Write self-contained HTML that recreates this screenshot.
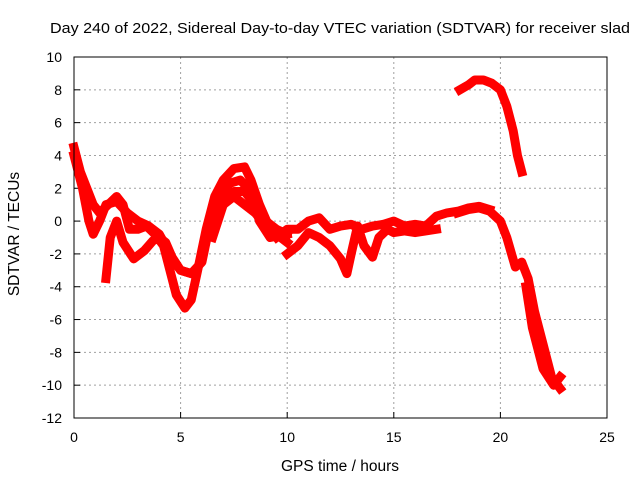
<!DOCTYPE html>
<html><head><meta charset="utf-8"><style>
body{margin:0;background:#fff}
svg{display:block;font-family:"Liberation Sans",sans-serif}
</style></head><body>
<svg id="c" width="640" height="480">
<text x="340" y="33" font-size="15" textLength="580" lengthAdjust="spacingAndGlyphs" text-anchor="middle">Day 240 of 2022, Sidereal Day-to-day VTEC variation (SDTVAR) for receiver slad</text>
<text x="340" y="471" font-size="15.5" text-anchor="middle">GPS time / hours</text>
<text transform="translate(19,234) rotate(-90)" font-size="15.5" text-anchor="middle">SDTVAR / TECUs</text>
<g id="grid"></g><g id="ticks"></g><g id="marks"></g>
<rect x="74" y="57" width="533" height="361" fill="none" stroke="#000" stroke-width="1"/>
</svg>
<script>
const xTicks=[0,5,10,15,20,25];
const yTicks=[10,8,6,4,2,0,-2,-4,-6,-8,-10,-12];
const s1=[[0,4.5],[0.3,3],[0.6,2],[0.9,1],[1.2,0.5],[1.6,1],[2,1.5],[2.3,1],[2.6,-0.5],[3,-0.5],[3.4,-0.3],[3.8,-0.8],[4.2,-1.5],[4.5,-3],[4.8,-4.5],[5.2,-5.3],[5.5,-4.8],[5.8,-3],[6.2,-0.5],[6.6,1.5],[7,2.5],[7.5,3.2],[8,3.3],[8.3,2.5],[8.7,1],[9.2,-0.5],[9.7,-1],[10,-1.3]];
const s2=[[0,4],[0.4,2],[0.7,0],[0.9,-0.8],[1.2,0],[1.5,1],[2,1.2],[2.5,0.5],[3,0],[3.5,-0.3],[4,-0.8],[4.3,-1.5],[4.7,-2.5],[5,-3],[5.5,-3.2],[6,-2.5],[6.4,0],[6.8,1.5],[7.3,2.3],[7.8,2.5],[8.3,1.8],[8.7,0],[9.2,-1],[10,-0.8]];
const s3=[[1.5,-3.5],[1.7,-1],[2,0],[2.3,-1.3],[2.8,-2.3],[3.3,-1.8],[3.7,-1.2],[4,-1],[4.3,-1.3],[4.6,-2.2],[5,-3],[5.5,-3.2]];
const s4=[[6.5,-1],[7,1],[7.5,1.8],[8,1.8],[8.5,1],[9,0],[9.5,-0.5],[10,-0.8]];
const s5=[[7,1],[7.5,1.5],[8,1],[8.5,0.5],[9,-0.3]];
const s6=[[9.5,-1],[10,-0.5],[10.5,-0.5],[11,0],[11.5,0.2],[12,-0.5],[12.5,-0.3],[13,-0.2],[13.5,-0.5],[14,-0.3],[14.5,-0.2],[15,0],[15.5,-0.3],[16,-0.2],[16.5,-0.3],[17,0.3],[17.5,0.5],[18,0.6],[18.5,0.8],[19,0.9],[19.5,0.7]];
const s7=[[10,-2],[10.5,-1.5],[11,-0.7],[11.5,-1],[12,-1.5],[12.5,-2.3],[12.8,-3.2],[13,-2],[13.3,-0.3],[13.6,-1.5],[14,-2.2],[14.3,-1],[14.7,-0.5],[15,-0.7],[15.5,-0.6],[16,-0.7],[16.5,-0.6],[17,-0.5]];
const s8=[[18,0.5],[18.5,0.7],[19,0.8],[19.5,0.6],[20,0],[20.3,-1],[20.7,-2.8],[21,-2.5],[21.3,-3.5],[21.6,-5.5],[22,-7.5],[22.4,-9.5],[22.8,-10.2]];
const s9=[[21.2,-4],[21.5,-6.5],[22,-9],[22.5,-10],[22.8,-9.5]];
const s10=[[18.1,8],[18.5,8.3],[18.8,8.6],[19.2,8.6],[19.6,8.4],[20,8],[20.3,7],[20.6,5.5],[20.8,4],[21,3]];
const series=[s1,s2,s3,s4,s5,s6,s7,s8,s9,s10];
const X=t=>74+t*533/25, Y=v=>57+(10-v)*361/22;
const NS="http://www.w3.org/2000/svg";
function mk(tag,attrs,parent){const e=document.createElementNS(NS,tag);for(const k in attrs)e.setAttribute(k,attrs[k]);parent.appendChild(e);return e;}
const g=document.getElementById('grid'),tk=document.getElementById('ticks'),m=document.getElementById('marks');
xTicks.forEach(t=>{
 if(t>0&&t<25){const l=mk('line',{x1:X(t),x2:X(t),y1:57,y2:418,stroke:'#a0a0a0','stroke-dasharray':'2,3'},g);
 
 }
 mk('line',{x1:X(t),x2:X(t),y1:418,y2:412,stroke:'#000'},tk);
 const tx=mk('text',{x:X(t),y:442,'font-size':14,'text-anchor':'middle'},tk);tx.textContent=t;
 
 
});
yTicks.forEach(v=>{
 if(v<10&&v>-12){const l=mk('line',{x1:74,x2:607,y1:Y(v),y2:Y(v),stroke:'#a0a0a0','stroke-dasharray':'2,3'},g);
 
 }
 mk('line',{x1:74,x2:80,y1:Y(v),y2:Y(v),stroke:'#000'},tk);
 const tx=mk('text',{x:62,y:Y(v)+5,'font-size':14,'text-anchor':'end'},tk);tx.textContent=v;
 
 
});
series.forEach((s,i)=>{
 const p=mk('polyline',{points:s.map(d=>X(d[0])+','+Y(d[1])).join(' '),fill:'none',stroke:'#ff0000','stroke-width':9,'stroke-linejoin':'round','stroke-linecap':'square'},m);
 
 
});
</script>
</body></html>
